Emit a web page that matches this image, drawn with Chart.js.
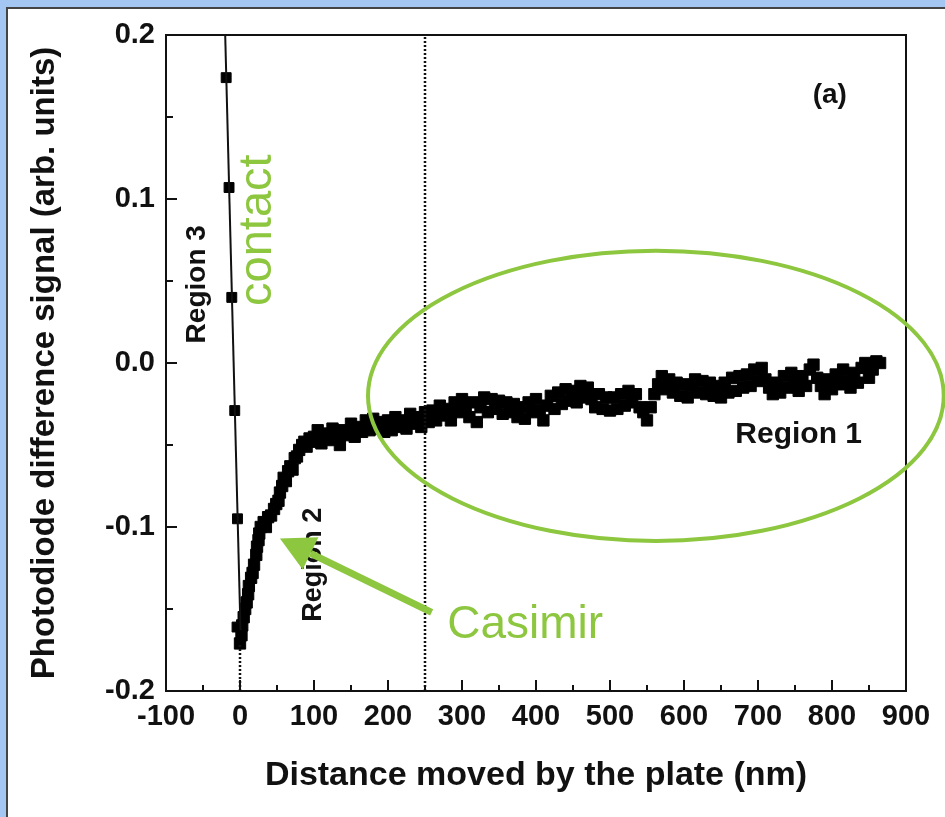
<!DOCTYPE html>
<html>
<head>
<meta charset="utf-8">
<script src="https://cdn.jsdelivr.net/npm/chart.js@4.4.1/dist/chart.umd.min.js"></script>
<style>
  html, body { margin: 0; padding: 0; background: #fff; }
  canvas { display: block; }
</style>
</head>
<body>
<canvas id="chart" width="945" height="817"></canvas>
<script>
// axis ticks
const xTicks = [-100, 0, 100, 200, 300, 400, 500, 600, 700, 800, 900];
const xMinorTicks = [-50, 50, 150, 250, 350, 450, 550, 650, 750, 850];
const yTicks = [-0.2, -0.1, 0.0, 0.1, 0.2];
const yTickLabels = ['-0.2', '-0.1', '0.0', '0.1', '0.2'];
const yMinorTicks = [-0.15, -0.05, 0.05, 0.15];

// region 3: contact line and its points
const region3LineX = [-20, 0.7];
const region3LineY = [0.2, -0.163];
const region3X = [-18.7, -14.8, -11.1, -7.1, -3.4, -4.0];
const region3Y = [0.174, 0.107, 0.040, -0.029, -0.095, -0.161];

// regions 2 and 1: approach data
const approachX = [
  0, 2, 3, 5, 7, 9, 11, 12, 15, 17, 19, 22, 23, 25, 26, 28, 32, 35, 38, 42,
  46, 49, 52, 54, 57, 59, 62, 65, 68, 71, 74, 77, 80, 84, 87, 90, 94, 97, 100,
  105, 110, 115, 120, 125, 130, 135, 140, 145, 150, 155, 160, 165, 170, 175, 180, 185, 190, 195, 200,
  205, 210, 215, 220, 225, 230, 235, 240, 245, 250, 255, 260, 265, 270, 275, 280, 285, 290, 295, 300,
  305, 310, 315, 320, 325, 330, 335, 340, 345, 350, 355, 360, 365, 370, 375, 380, 385, 390, 395, 400,
  405, 410, 415, 420, 425, 430, 435, 440, 445, 450, 455, 460, 465, 470, 475, 480, 485, 490, 495, 500,
  505, 510, 515, 520, 525, 530, 535, 540, 545, 550, 555, 560, 565, 570, 575, 580, 585, 590, 595, 600,
  605, 610, 615, 620, 625, 630, 635, 640, 645, 650, 655, 660, 665, 670, 675, 680, 685, 690, 695, 700,
  705, 710, 715, 720, 725, 730, 735, 740, 745, 750, 755, 760, 765, 770, 775, 780, 785, 790, 795, 800,
  805, 810, 815, 820, 825, 830, 835, 840, 845, 850, 855, 860, 865
];
const approachY = [
  -0.171, -0.166, -0.160, -0.155, -0.150, -0.146, -0.141, -0.136, -0.131, -0.128,
  -0.123, -0.117, -0.112, -0.108, -0.104, -0.100, -0.097, -0.100, -0.094, -0.093,
  -0.089, -0.086, -0.084, -0.079, -0.075, -0.070, -0.072, -0.066, -0.063, -0.065,
  -0.058, -0.057, -0.053, -0.050, -0.048, -0.051, -0.046, -0.048, -0.045,
  -0.041, -0.049, -0.043, -0.047, -0.040, -0.046, -0.050, -0.041, -0.044, -0.037,
  -0.045, -0.039, -0.042, -0.035, -0.041, -0.034, -0.040, -0.036, -0.042, -0.035,
  -0.041, -0.033, -0.039, -0.035, -0.040, -0.031, -0.037, -0.033, -0.039, -0.030,
  -0.036, -0.029, -0.035, -0.026, -0.032, -0.028, -0.035, -0.024, -0.030, -0.022,
  -0.028, -0.033, -0.024, -0.036, -0.027, -0.021, -0.030, -0.022, -0.028, -0.023,
  -0.031, -0.024, -0.030, -0.025, -0.033, -0.027, -0.034, -0.024, -0.030, -0.022,
  -0.029, -0.035, -0.026, -0.020, -0.028, -0.018, -0.025, -0.016, -0.023, -0.017,
  -0.024, -0.014, -0.021, -0.015, -0.022, -0.027, -0.019, -0.028, -0.021, -0.029,
  -0.021, -0.028, -0.019, -0.026, -0.017, -0.024, -0.019, -0.027, -0.030, -0.035,
  -0.027, -0.019, -0.013, -0.008, -0.016, -0.010, -0.018, -0.012, -0.020, -0.013,
  -0.021, -0.014, -0.010, -0.018, -0.011, -0.019, -0.012, -0.020, -0.014, -0.021,
  -0.012, -0.018, -0.009, -0.017, -0.008, -0.015, -0.007, -0.014, -0.004, -0.011,
  -0.003, -0.010, -0.015, -0.019, -0.012, -0.018, -0.008, -0.015, -0.006, -0.013,
  -0.017, -0.008, -0.014, -0.004, -0.001, -0.009, -0.014, -0.019, -0.010, -0.016,
  -0.007, -0.013, -0.004, -0.011, -0.015, -0.006, -0.012, -0.003, 0.000, -0.009,
  -0.004, 0.001, 0.000
];

// vertical dotted guide lines
const contactGuideX = [0, 0];
const contactGuideY = [-0.172, -0.2];
const casimirGuideX = [250, 250];
const casimirGuideY = [-0.2, 0.2];

const green = '#8dc63f';
const boldFont = '"Liberation Sans", Arial, sans-serif';

const toPoints = (xs, ys) => xs.map((x, i) => ({ x: x, y: ys[i] }));

// frame, inward ticks and the notes on the plot
const decorPlugin = {
  id: 'decor',
  beforeDraw(chart) {
    const ctx = chart.ctx;
    ctx.save();
    ctx.fillStyle = '#ffffff';
    ctx.fillRect(0, 0, chart.width, chart.height);
    ctx.fillStyle = '#a3c6f2';
    ctx.fillRect(0, 0, chart.width, 7);
    ctx.fillRect(0, 0, 7, chart.height);
    ctx.strokeStyle = '#444';
    ctx.lineWidth = 2;
    ctx.beginPath();
    ctx.moveTo(7, chart.height);
    ctx.lineTo(7, 8);
    ctx.lineTo(chart.width, 8);
    ctx.stroke();
    ctx.restore();
  },
  afterDatasetsDraw(chart) {
    const ctx = chart.ctx;
    const xs = chart.scales.x;
    const ys = chart.scales.y;
    const a = chart.chartArea;
    const px = v => xs.getPixelForValue(v);
    const py = v => ys.getPixelForValue(v);

    ctx.save();
    // box
    ctx.strokeStyle = '#111';
    ctx.lineWidth = 2;
    ctx.strokeRect(a.left, a.top, a.right - a.left, a.bottom - a.top);

    // inward ticks
    ctx.beginPath();
    xTicks.forEach(v => { ctx.moveTo(px(v), a.bottom); ctx.lineTo(px(v), a.bottom - 11); });
    xMinorTicks.forEach(v => { ctx.moveTo(px(v), a.bottom); ctx.lineTo(px(v), a.bottom - 6); });
    yTicks.forEach(v => { ctx.moveTo(a.left, py(v)); ctx.lineTo(a.left + 11, py(v)); });
    yMinorTicks.forEach(v => { ctx.moveTo(a.left, py(v)); ctx.lineTo(a.left + 7, py(v)); });
    ctx.stroke();

    // black labels
    ctx.fillStyle = '#111';
    ctx.textAlign = 'center';
    ctx.textBaseline = 'middle';
    ctx.font = 'bold 28px ' + boldFont;
    ctx.fillText('(a)', px(797), py(0.163));
    ctx.font = 'bold 30px ' + boldFont;
    ctx.fillText('Region 1', px(755), py(-0.044));

    const vText = (text, x, y, font, color) => {
      ctx.save();
      ctx.translate(px(x), py(y));
      ctx.rotate(-Math.PI / 2);
      ctx.font = font;
      ctx.fillStyle = color;
      ctx.fillText(text, 0, 0);
      ctx.restore();
    };
    vText('Region 3', -58, 0.048, 'bold 28px ' + boldFont, '#111');
    vText('Region 2', 99, -0.123, 'bold 27px ' + boldFont, '#111');
    vText('contact', 24, 0.081, '47px ' + boldFont, green);

    // ellipse round region 1
    const cx = px(562), cy = py(-0.020);
    const rx = px(562 + 389) - cx;
    const ry = cy - py(-0.020 + 0.0885);
    ctx.strokeStyle = green;
    ctx.lineWidth = 4;
    ctx.beginPath();
    ctx.ellipse(cx, cy, rx, ry, 0, 0, Math.PI * 2);
    ctx.stroke();

    // Casimir arrow
    const x0 = px(259), y0 = py(-0.152);
    const x1 = px(54), y1 = py(-0.107);
    const ang = Math.atan2(y1 - y0, x1 - x0);
    const headLen = 34, headHalf = 18;
    const bx = x1 - headLen * Math.cos(ang), by = y1 - headLen * Math.sin(ang);
    ctx.lineWidth = 7;
    ctx.beginPath();
    ctx.moveTo(x0, y0);
    ctx.lineTo(bx, by);
    ctx.stroke();
    ctx.fillStyle = green;
    ctx.beginPath();
    ctx.moveTo(x1, y1);
    ctx.lineTo(bx + headHalf * Math.sin(ang), by - headHalf * Math.cos(ang));
    ctx.lineTo(bx - headHalf * Math.sin(ang), by + headHalf * Math.cos(ang));
    ctx.closePath();
    ctx.fill();

    ctx.textAlign = 'left';
    ctx.font = '46px ' + boldFont;
    ctx.fillText('Casimir', px(280), py(-0.160));
    ctx.restore();
  }
};

new Chart(document.getElementById('chart'), {
  type: 'scatter',
  data: {
    datasets: [
      {
        data: toPoints(region3LineX, region3LineY),
        showLine: true,
        borderColor: '#111',
        borderWidth: 2,
        pointRadius: 0
      },
      {
        data: toPoints(region3X, region3Y),
        pointStyle: 'rect',
        pointRadius: 7,
        borderWidth: 1,
        borderColor: '#000',
        backgroundColor: '#000'
      },
      {
        data: toPoints(contactGuideX, contactGuideY),
        showLine: true,
        borderColor: '#111',
        borderWidth: 2.5,
        borderDash: [2, 2],
        pointRadius: 0
      },
      {
        data: toPoints(casimirGuideX, casimirGuideY),
        showLine: true,
        borderColor: '#111',
        borderWidth: 2.5,
        borderDash: [2, 2],
        pointRadius: 0
      },
      {
        data: toPoints(approachX, approachY),
        pointStyle: 'rect',
        pointRadius: 8,
        borderWidth: 1,
        borderColor: '#000',
        backgroundColor: '#000'
      }
    ]
  },
  options: {
    responsive: false,
    animation: false,
    events: [],
    layout: { padding: { left: 0, top: 35, right: 39, bottom: 0 } },
    plugins: {
      legend: { display: false },
      tooltip: { enabled: false }
    },
    scales: {
      x: {
        type: 'linear',
        min: -100,
        max: 900,
        afterFit: s => { s.height = 126; },
        afterBuildTicks: s => { s.ticks = xTicks.map(v => ({ value: v })); },
        grid: { display: false, drawTicks: false },
        border: { display: false },
        ticks: {
          color: '#111',
          padding: 9,
          maxRotation: 0,
          autoSkip: false,
          font: { family: boldFont, size: 29, weight: 'bold' },
          callback: v => String(v)
        },
        title: {
          display: true,
          text: 'Distance moved by the plate (nm)',
          color: '#111',
          padding: { top: 0, bottom: 21 },
          font: { family: boldFont, size: 34, weight: 'bold' }
        }
      },
      y: {
        type: 'linear',
        min: -0.2,
        max: 0.2,
        afterFit: s => { s.width = 166; },
        afterBuildTicks: s => { s.ticks = yTicks.map(v => ({ value: v })); },
        grid: { display: false, drawTicks: false },
        border: { display: false },
        ticks: {
          color: '#111',
          padding: 11,
          autoSkip: false,
          font: { family: boldFont, size: 29, weight: 'bold' },
          callback: (v, i) => yTickLabels[i]
        },
        title: {
          display: true,
          text: 'Photodiode difference signal (arb. units)',
          color: '#111',
          padding: { top: 25, bottom: 0 },
          font: { family: boldFont, size: 33, weight: 'bold' }
        }
      }
    }
  },
  plugins: [decorPlugin]
});
</script>
</body>
</html>
